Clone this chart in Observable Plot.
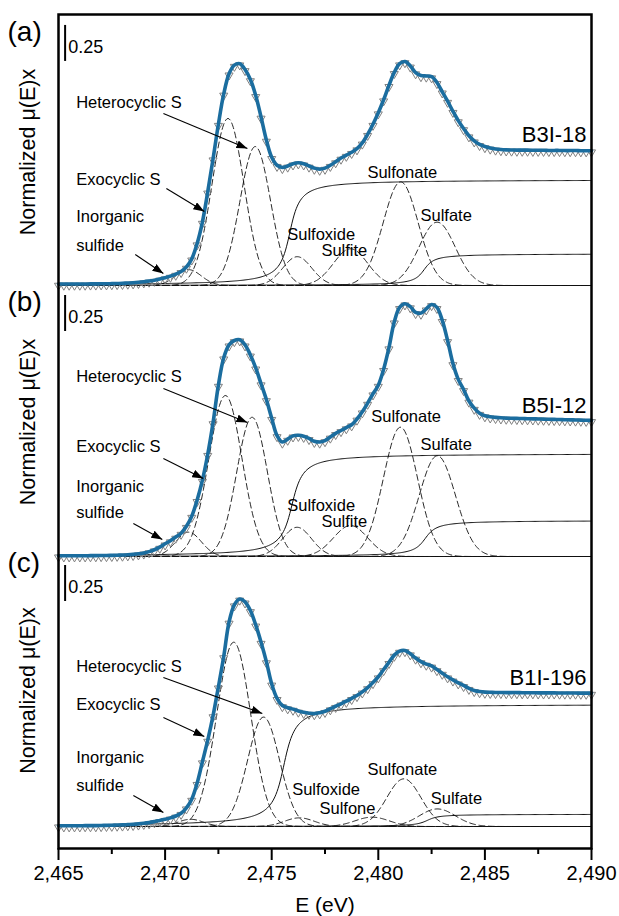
<!DOCTYPE html>
<html>
<head>
<meta charset="utf-8">
<script src="https://cdn.jsdelivr.net/npm/d3@7"></script>
<script src="https://cdn.jsdelivr.net/npm/@observablehq/plot@0.6"></script>
<style>
  html, body { margin: 0; padding: 0; background: #fff; }
</style>
</head>
<body>
<div id="chart"></div>
<script>
// ---- S K-edge XANES spectra (normalized μ(E)x), one value every 0.25 eV from 2465 eV ----
const energyStart = 2465;
const energyStep = 0.25;

const muB3I18 = [
  0.010, 0.010, 0.010, 0.010, 0.010, 0.010, 0.011, 0.011, 0.012, 0.012,
  0.013, 0.014, 0.015, 0.017, 0.019, 0.022, 0.026, 0.031, 0.037, 0.045,
  0.054, 0.065, 0.079, 0.098, 0.128, 0.185, 0.29, 0.44, 0.65, 0.88,
  1.12, 1.33, 1.47, 1.53, 1.54, 1.50, 1.43, 1.32, 1.17, 1.01,
  0.89, 0.835, 0.82, 0.83, 0.845, 0.852, 0.845, 0.83, 0.815, 0.808,
  0.815, 0.835, 0.86, 0.885, 0.905, 0.925, 0.95, 0.99, 1.05, 1.12,
  1.20, 1.29, 1.39, 1.48, 1.54, 1.555, 1.525, 1.478, 1.458, 1.455,
  1.45, 1.41, 1.345, 1.28, 1.21, 1.145, 1.09, 1.04, 1.005, 0.98,
  0.965, 0.955, 0.948, 0.944, 0.942, 0.941, 0.940, 0.940, 0.940, 0.939,
  0.939, 0.939, 0.938, 0.938, 0.938, 0.937, 0.937, 0.937, 0.936, 0.936,
  0.936
];

const muB5I12 = [
  0.005, 0.005, 0.005, 0.005, 0.005, 0.005, 0.006, 0.006, 0.007, 0.007,
  0.008, 0.009, 0.010, 0.012, 0.015, 0.019, 0.025, 0.034, 0.047, 0.065,
  0.088, 0.11, 0.135, 0.162, 0.21, 0.28, 0.39, 0.53, 0.71, 0.93,
  1.19, 1.38, 1.47, 1.50, 1.505, 1.47, 1.40, 1.31, 1.20, 1.09,
  0.96, 0.84, 0.795, 0.815, 0.838, 0.842, 0.835, 0.82, 0.80, 0.795,
  0.805, 0.83, 0.855, 0.875, 0.895, 0.915, 0.955, 1.005, 1.065, 1.13,
  1.19, 1.30, 1.45, 1.63, 1.73, 1.755, 1.735, 1.695, 1.69, 1.72,
  1.75, 1.73, 1.64, 1.50, 1.34, 1.23, 1.16, 1.08, 1.03, 0.995,
  0.978, 0.97, 0.966, 0.963, 0.961, 0.960, 0.959, 0.958, 0.957, 0.956,
  0.955, 0.954, 0.953, 0.952, 0.951, 0.950, 0.949, 0.948, 0.947, 0.946,
  0.945
];

const muB1I196 = [
  0.005, 0.005, 0.005, 0.005, 0.005, 0.006, 0.006, 0.006, 0.007, 0.008,
  0.009, 0.010, 0.011, 0.013, 0.015, 0.018, 0.022, 0.027, 0.034, 0.042,
  0.050, 0.060, 0.073, 0.092, 0.13, 0.19, 0.30, 0.45, 0.60, 0.77,
  0.97, 1.18, 1.42, 1.54, 1.58, 1.56, 1.50, 1.40, 1.28, 1.145,
  0.99, 0.89, 0.84, 0.825, 0.815, 0.802, 0.793, 0.787, 0.784, 0.79,
  0.80, 0.818, 0.835, 0.852, 0.87, 0.89, 0.91, 0.935, 0.965, 1.0,
  1.04, 1.09, 1.14, 1.19, 1.218, 1.222, 1.20, 1.17, 1.145, 1.128,
  1.115, 1.09, 1.065, 1.04, 1.018, 0.998, 0.98, 0.96, 0.945, 0.937,
  0.933, 0.932, 0.931, 0.931, 0.930, 0.930, 0.930, 0.929, 0.929, 0.929,
  0.928, 0.928, 0.928, 0.928, 0.927, 0.927, 0.927, 0.927, 0.926, 0.926,
  0.926
];

// ---- Gaussian components: centre (eV), height, sigma (eV) ----
// order: inorganic sulfide, exocyclic S, heterocyclic S, sulfoxide,
//        sulfite (sulfone for B1I-196), sulfonate, sulfate
const peakCentreB3I18 = [2471.1, 2472.95, 2474.23, 2476.2, 2478.7, 2481.05, 2482.76];
const peakHeightB3I18 = [0.11, 1.16, 0.965, 0.20, 0.255, 0.72, 0.44];
const peakSigmaB3I18  = [0.6, 0.75, 0.72, 0.68, 0.8, 0.82, 0.85];

const peakCentreB5I12 = [2471.1, 2472.83, 2474.08, 2476.19, 2478.7, 2481.04, 2482.77];
const peakHeightB5I12 = [0.169, 1.118, 0.967, 0.203, 0.215, 0.898, 0.70];
const peakSigmaB5I12  = [0.6, 0.78, 0.72, 0.68, 0.8, 0.8, 0.85];

const peakCentreB1I196 = [2471.2, 2473.22, 2474.62, 2476.3, 2479.71, 2481.2, 2482.77];
const peakHeightB1I196 = [0.05, 1.28, 0.76, 0.06, 0.065, 0.331, 0.122];
const peakSigmaB1I196  = [0.6, 0.8, 0.75, 0.7, 0.8, 0.8, 0.85];

// ---- arctangent edge steps: centre (eV), height, width (eV) ----
const stepCentreB3I18 = [2475.85, 2482.15];
const stepHeightB3I18 = [0.735, 0.22];
const stepWidthB3I18  = [0.35, 0.35];

const stepCentreB5I12 = [2475.95, 2482.2];
const stepHeightB5I12 = [0.715, 0.25];
const stepWidthB5I12  = [0.38, 0.4];

const stepCentreB1I196 = [2475.57, 2482.3];
const stepHeightB1I196 = [0.85, 0.085];
const stepWidthB1I196  = [0.4, 0.4];

const sampleNames = ["B3I-18", "B5I-12", "B1I-196"];
const panelTags = ["(a)", "(b)", "(c)"];
const majorTicks = [2465, 2470, 2475, 2480, 2485, 2490];
const minorTicks = [2467.5, 2472.5, 2477.5, 2482.5, 2487.5];
const scaleBarSize = 0.25;

// ---- layout: each panel sits on its own baseline in a shared frame ----
const unitPx = 144;                       // pixels per unit of μ(E)x
const plotTop = 14, plotBottom = 848;
const yMax = (plotBottom - plotTop) / unitPx;
const panelOffset = [(plotBottom - 285) / unitPx, (plotBottom - 556) / unitPx, (plotBottom - 826) / unitPx];

const panels = [
  {tag: panelTags[0], sample: sampleNames[0], mu: muB3I18,
   pc: peakCentreB3I18, ph: peakHeightB3I18, ps: peakSigmaB3I18,
   sc: stepCentreB3I18, sh: stepHeightB3I18, sw: stepWidthB3I18,
   tagY: 1.70, axisLabelY: 0.927, barLow: 1.556,
   labels: [
     ["Heterocyclic S", 2465.83, 1.236],
     ["Exocyclic S", 2465.83, 0.701],
     ["Inorganic", 2465.83, 0.444],
     ["sulfide", 2465.83, 0.243],
     ["Sulfoxide", 2475.73, 0.319],
     ["Sulfite", 2477.33, 0.208],
     ["Sulfonate", 2479.49, 0.75],
     ["Sulfate", 2481.98, 0.451]
   ],
   sampleY: 1.0,
   arrows: [[2469.92, 1.194, 2473.86, 0.951], [2470.06, 0.674, 2471.84, 0.514], [2468.6, 0.215, 2469.92, 0.083]]},
  {tag: panelTags[1], sample: sampleNames[1], mu: muB5I12,
   pc: peakCentreB5I12, ph: peakHeightB5I12, ps: peakSigmaB5I12,
   sc: stepCentreB5I12, sh: stepHeightB5I12, sw: stepWidthB5I12,
   tagY: 1.705, axisLabelY: 0.934, barLow: 1.5625,
   labels: [
     ["Heterocyclic S", 2465.83, 1.215],
     ["Exocyclic S", 2465.83, 0.729],
     ["Inorganic", 2465.83, 0.451],
     ["sulfide", 2465.83, 0.264],
     ["Sulfoxide", 2475.73, 0.319],
     ["Sulfite", 2477.33, 0.208],
     ["Sulfonate", 2479.67, 0.931],
     ["Sulfate", 2481.98, 0.743]
   ],
   sampleY: 1.0,
   arrows: [[2469.92, 1.167, 2473.86, 0.931], [2469.92, 0.681, 2471.79, 0.542], [2468.51, 0.229, 2469.87, 0.118]]},
  {tag: panelTags[2], sample: sampleNames[2], mu: muB1I196,
   pc: peakCentreB1I196, ph: peakHeightB1I196, ps: peakSigmaB1I196,
   sc: stepCentreB1I196, sh: stepHeightB1I196, sw: stepWidthB1I196,
   tagY: 1.765, axisLabelY: 0.944, barLow: 1.5625,
   labels: [
     ["Heterocyclic S", 2465.83, 1.076],
     ["Exocyclic S", 2465.83, 0.806],
     ["Inorganic", 2465.83, 0.444],
     ["sulfide", 2465.83, 0.25],
     ["Sulfoxide", 2475.96, 0.222],
     ["Sulfone", 2477.24, 0.09],
     ["Sulfonate", 2479.49, 0.361],
     ["Sulfate", 2482.46, 0.153]
   ],
   sampleY: 0.986,
   arrows: [[2469.92, 1.035, 2474.56, 0.785], [2469.92, 0.757, 2471.84, 0.625], [2468.51, 0.215, 2469.92, 0.097]]}
];
panels.forEach((p, i) => p.off = panelOffset[i]);

// measured points and fit line
const spectrum = panels.flatMap((p, i) =>
  p.mu.map((v, k) => ({panel: i, E: energyStart + k * energyStep, y: p.off + v})));

// component curves evaluated on a fine energy grid
const fineGrid = d3.range(2465, 2490.0001, 0.05);
const peakRows = [], stepRows = [];
panels.forEach((p, i) => {
  p.pc.forEach((c, k) => {
    for (const E of fineGrid) {
      peakRows.push({key: `${i}-${k}`, E, y: p.off + p.ph[k] * Math.exp(-((E - c) ** 2) / (2 * p.ps[k] ** 2))});
    }
  });
  p.sc.forEach((c, k) => {
    for (const E of fineGrid) {
      stepRows.push({key: `${i}-${k}`, E, y: p.off + p.sh[k] * (0.5 + Math.atan((E - c) / p.sw[k]) / Math.PI)});
    }
  });
});

const textLabels = panels.flatMap(p => p.labels.map(([text, E, v]) => ({text, E, y: p.off + v})));
const arrowRows = panels.flatMap(p => p.arrows.map(([x1, v1, x2, v2]) => ({x1, y1: p.off + v1, x2, y2: p.off + v2})));

// filled triangular arrow head
function arrowHead(color, context) {
  const ns = "http://www.w3.org/2000/svg";
  const doc = context.document;
  const m = doc.createElementNS(ns, "marker");
  m.setAttribute("viewBox", "-11 -4 11 8");
  m.setAttribute("markerWidth", 11);
  m.setAttribute("markerHeight", 8);
  m.setAttribute("markerUnits", "userSpaceOnUse");
  m.setAttribute("orient", "auto");
  m.setAttribute("refX", 0);
  m.setAttribute("refY", 0);
  const path = doc.createElementNS(ns, "path");
  path.setAttribute("d", "M-11,-4L0,0L-11,4Z");
  path.setAttribute("fill", color);
  path.setAttribute("stroke", "none");
  m.appendChild(path);
  return m;
}

const blue = "#1b6d9f";

const chart = Plot.plot({
  width: 619,
  height: 916,
  marginLeft: 58,
  marginRight: 28,
  marginTop: plotTop,
  marginBottom: 916 - plotBottom,
  style: {fontFamily: "'Liberation Sans', Arial, sans-serif", background: "#fff", color: "#000", overflow: "visible"},
  x: {domain: [2465, 2490]},
  y: {domain: [0, yMax], axis: null},
  marks: [
    // Gaussian components
    Plot.line(peakRows, {x: "E", y: "y", z: "key", stroke: "#111", strokeWidth: 0.9, strokeDasharray: "6,3.5"}),
    // arctangent steps
    Plot.line(stepRows, {x: "E", y: "y", z: "key", stroke: "#111", strokeWidth: 1}),
    // measured data
    Plot.dot(spectrum, {x: "E", y: "y", dy: 1.5, symbol: "triangle", rotate: 180, r: 3, stroke: "#808080", strokeWidth: 1, fill: "none"}),
    // fit
    Plot.line(spectrum, {x: "E", y: "y", z: "panel", stroke: blue, strokeWidth: 3.6, curve: "catmull-rom"}),
    // scale bars
    Plot.ruleX(panels, {x: () => 2465.31, y1: p => p.off + p.barLow, y2: p => p.off + p.barLow + scaleBarSize, stroke: "#000", strokeWidth: 2}),
    Plot.text(panels, {x: () => 2465.46, y: p => p.off + p.barLow + 0.062, text: () => String(scaleBarSize), textAnchor: "start", lineAnchor: "bottom", fontSize: 18}),
    // panel tags
    Plot.text(panels, {x: () => 2465, y: p => p.off + p.tagY, dx: -51, text: "tag", textAnchor: "start", lineAnchor: "bottom", fontSize: 28}),
    // y-axis titles
    Plot.text(panels, {x: () => 2465, y: p => p.off + p.axisLabelY, dx: -30, rotate: -90, text: () => "Normalized μ(E)x", fontSize: 21.5}),
    // sample names
    Plot.text(panels, {x: () => 2489.77, y: p => p.off + p.sampleY, text: "sample", textAnchor: "end", lineAnchor: "bottom", fontSize: 22}),
    // component labels
    Plot.text(textLabels, {x: "E", y: "y", text: "text", textAnchor: "start", lineAnchor: "bottom", fontSize: 16.5}),
    // arrows
    Plot.link(arrowRows, {x1: "x1", y1: "y1", x2: "x2", y2: "y2", stroke: "#000", strokeWidth: 1.1, markerEnd: arrowHead}),
    // frame and x axis
    Plot.frame({stroke: "#000", strokeWidth: 2.5}),
    Plot.axisX({ticks: minorTicks, tickSize: 6, strokeWidth: 2, tickFormat: () => "", label: null}),
    Plot.axisX({ticks: majorTicks, tickSize: 12, tickPadding: 5, strokeWidth: 2, tickFormat: d3.format(","), fontSize: 20, label: null}),
    Plot.text(["E (eV)"], {frameAnchor: "bottom", dy: 63, text: d => d, lineAnchor: "bottom", fontSize: 21})
  ]
});

document.getElementById("chart").appendChild(chart);
</script>
</body>
</html>
